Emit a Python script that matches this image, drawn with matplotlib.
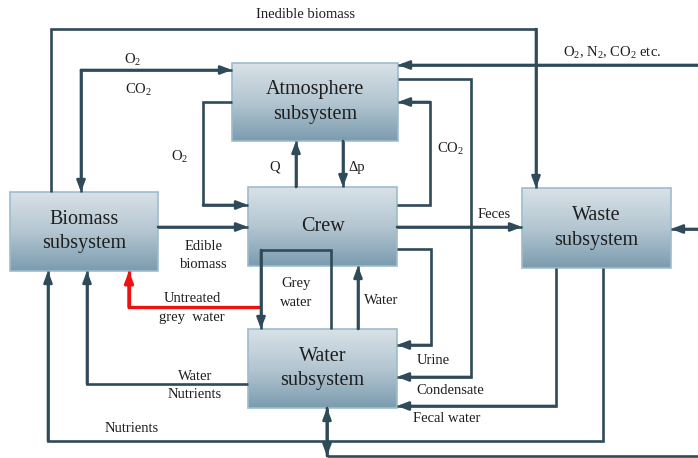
import numpy as np
import matplotlib.pyplot as plt
from matplotlib.patches import Rectangle, FancyArrowPatch
from matplotlib.colors import LinearSegmentedColormap

plt.rcParams['font.family'] = ['Liberation Serif', 'DejaVu Serif']
plt.rcParams['mathtext.fontset'] = 'custom'
plt.rcParams['mathtext.rm'] = 'Liberation Serif'
plt.rcParams['mathtext.it'] = 'Liberation Serif:italic'

# subsystem boxes: label, (x0, y0, x1, y1) in picture pixels
box_labels = ['Atmosphere\nsubsystem', 'Crew', 'Biomass\nsubsystem',
              'Water\nsubsystem', 'Waste\nsubsystem']
box_extents = [(232, 63, 398, 141), (248, 187, 397, 266), (10, 192, 158, 271),
               (248, 329, 397, 408), (522, 188, 671, 268)]

# flows: polyline path, arrow heads ('end', 'both', None)
flow_paths = [
    [(51, 192), (51, 29), (536, 29), (536, 188)],            # inedible biomass
    [(81, 192), (81, 70), (232, 70)],                        # O2 / CO2
    [(232, 102), (203, 102), (203, 205), (248, 205)],        # O2 to crew
    [(296, 187), (296, 141)],                                # Q
    [(343, 141), (343, 187)],                                # dp
    [(397, 205), (430, 205), (430, 102), (398, 102)],        # CO2
    [(698, 65), (398, 65)],                                  # O2, N2, CO2 etc.
    [(398, 79), (471, 79), (471, 377), (397, 377)],          # condensate
    [(158, 227), (248, 227)],                                # edible biomass
    [(397, 227), (522, 227)],                                # feces
    [(331, 329), (331, 250), (261, 250), (261, 329)],        # grey water
    [(358, 329), (358, 266)],                                # water
    [(397, 249), (431, 249), (431, 345), (397, 345)],        # urine
    [(556, 268), (556, 406), (397, 406)],                    # fecal water
    [(248, 384), (87, 384), (87, 271)],                      # water nutrients
    [(603, 268), (603, 441), (48, 441), (48, 271)],          # nutrients
    [(698, 456), (327, 456)],                                # bottom link
    [(327, 456), (327, 408)],                                # to water
    [(698, 229), (671, 229)],                                # into waste
]
flow_heads = ['end', 'both', 'end', 'end', 'end', 'end', 'end', 'end', 'end',
              'end', 'end', 'end', 'end', 'end', 'end', 'end', None, 'both', 'end']

red_path = [(261, 307), (129, 307), (129, 271)]   # untreated grey water

label_texts = ['Inedible biomass', 'O$_2$', 'CO$_2$', 'O$_2$', 'Q', '\u0394p',
               'CO$_2$', 'O$_2$, N$_2$, CO$_2$ etc.', 'Feces', 'Edible\nbiomass',
               'Grey\nwater', 'Untreated\ngrey  water', 'Water', 'Urine',
               'Condensate', 'Fecal water', 'Water\nNutrients', 'Nutrients']
label_pos = [(305, 14), (133, 60), (138, 90), (180, 157), (275, 167), (357, 167),
             (450, 149), (612, 53), (494, 214), (204, 255),
             (296, 293), (192, 308), (381, 301), (433, 360),
             (450, 391), (447, 418), (195, 385), (132, 429)]

W, H = 698, 458
line_col = '#2f4b5a'
fig = plt.figure(figsize=(W / 100, H / 100), dpi=100)
ax = fig.add_axes([0, 0, 1, 1])

cmap = LinearSegmentedColormap.from_list('box', ['#d8e1e7', '#b4c6d1', '#7b9caf'])
grad = np.linspace(0, 1, 100).reshape(-1, 1)
for lab, (x0, y0, x1, y1) in zip(box_labels, box_extents):
    ax.imshow(grad, cmap=cmap, extent=(x0, x1, y1, y0), aspect='auto', zorder=1)
    ax.add_patch(Rectangle((x0, y0), x1 - x0, y1 - y0, fill=False,
                           ec='#9dbccd', lw=1.2, zorder=2))
    ax.text((x0 + x1) / 2, (y0 + y1) / 2, lab, ha='center', va='center',
            fontsize=14.5, color='#1e1e1e', linespacing=1.38, zorder=5)


def flow(path, heads, color=line_col, lw=1.9):
    xs, ys = zip(*path)
    ax.plot(xs, ys, color=color, lw=lw, solid_joinstyle='miter',
            solid_capstyle='butt', zorder=3)
    style = '-|>,head_length=0.55,head_width=0.21'
    if heads in ('end', 'both'):
        ax.add_patch(FancyArrowPatch(path[-2], path[-1], arrowstyle=style,
                                     mutation_scale=12, color=color, lw=lw,
                                     shrinkA=0, shrinkB=0, zorder=4))
    if heads == 'both':
        ax.add_patch(FancyArrowPatch(path[1], path[0], arrowstyle=style,
                                     mutation_scale=12, color=color, lw=lw,
                                     shrinkA=0, shrinkB=0, zorder=4))


for p, h in zip(flow_paths, flow_heads):
    flow(p, h)
flow(red_path, 'end', color='#ee1111', lw=2.4)

for t, (x, y) in zip(label_texts, label_pos):
    ax.text(x, y, t, ha='center', va='center', fontsize=10.5, color='#1e1e1e',
            linespacing=1.5, zorder=5)

ax.set_xlim(0, W)
ax.set_ylim(H, 0)
ax.axis('off')
fig.savefig('out.png', dpi=100)
